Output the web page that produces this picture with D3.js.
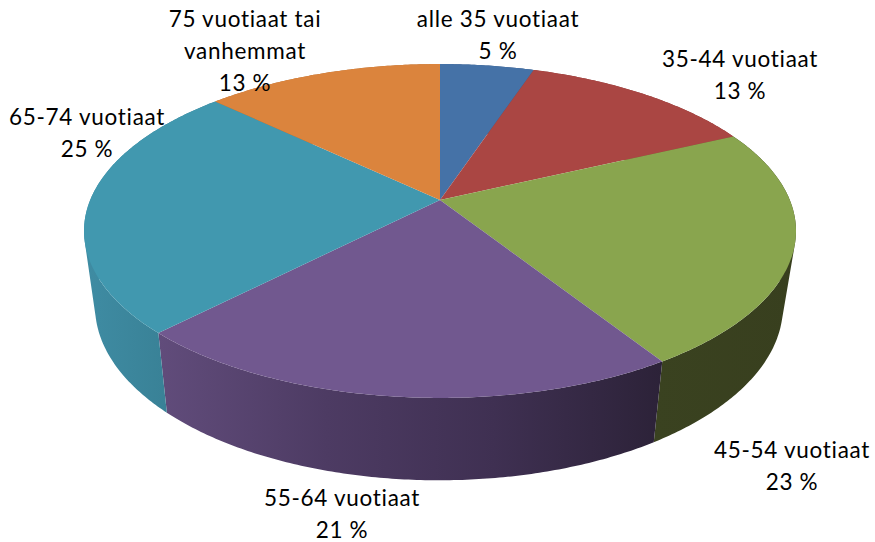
<!DOCTYPE html>
<html>
<head>
<meta charset="utf-8">
<script src="https://cdn.jsdelivr.net/npm/d3@7"></script>
<style>
  html, body { margin: 0; padding: 0; background: #fff; }
  text { font-family: Lato, sans-serif; font-size: 22.5px; letter-spacing: 0.7px; font-variant-ligatures: none; fill: #000; }
</style>
</head>
<body>
<div class="grafico"></div>
<script>
var width = 875, height = 542;

// data, starting at twelve o'clock and going clockwise
var categories = ["alle 35 vuotiaat", "35-44 vuotiaat", "45-54 vuotiaat", "55-64 vuotiaat", "65-74 vuotiaat", "75 vuotiaat tai\nvanhemmat"];
var values = [5.1, 12.9, 23, 21.3, 24.8, 12.9];

var colors = ["#4572a7", "#aa4643", "#89a54e", "#71588f", "#4198af", "#db843d"];
// wall shading, left to right
var wallColors = [
  ["#3a5a85", "#3a5a85"],
  ["#883836", "#883836"],
  ["#3a4220", "#383f1e"],
  ["#614c7b", "#4d3b63", "#3f3052", "#2c2238"],
  ["#3f8ca3", "#357a8e"],
  ["#b06a30", "#b06a30"]
];
var labelPos = [[498, 27], [740, 67], [792, 458], [342, 505.5], [87, 125], [245, 27]];
var lineHeight = 32;

var formatValue = d3.format(".0f");

var svg = d3.select(".grafico").append("svg")
  .attr("width", width)
  .attr("height", height)
  .style("display", "block");

// tilted disc: the nearer half is drawn bigger, so the apex sits above the ellipse centre
var topRim = { cx: 440, cy: 200, r: 349.8, a: 161.2, k: 0.1856 };
var bottomRim = { cx: 439, cy: 274, r: 338, a: 168, k: 0.1856 };

function project(rim, angle) {
  var u = Math.sin(angle), v = -Math.cos(angle), w = 1 - rim.k * v;
  return [rim.cx + rim.r * u / w, rim.cy + rim.a * v / w];
}

function rimPoints(rim, a0, a1) {
  var n = Math.max(2, Math.ceil((a1 - a0) / 0.01));
  return d3.range(n + 1).map(function (i) {
    return project(rim, a0 + (a1 - a0) * i / n);
  });
}

var pie = d3.pie().sort(null).value(function (d) { return d; });
var arcs = pie(values);
var line = d3.line();

// the wall is one path of small quads, all wound the same way so they add up
function wallPath(d) {
  var upper = rimPoints(topRim, d.startAngle, d.endAngle);
  var lower = rimPoints(bottomRim, d.startAngle, d.endAngle);
  var out = "";
  for (var i = 0; i < upper.length - 1; i++) {
    var quad = [upper[i], upper[i + 1], lower[i + 1], lower[i]];
    if (d3.polygonArea(quad) < 0) quad.reverse();
    out += line(quad) + "Z";
  }
  return out;
}

var defs = svg.append("defs");
arcs.forEach(function (d, i) {
  var pts = rimPoints(topRim, d.startAngle, d.endAngle).concat(rimPoints(bottomRim, d.startAngle, d.endAngle));
  var ext = d3.extent(pts, function (p) { return p[0]; });
  var grad = defs.append("linearGradient")
    .attr("id", "wall" + i)
    .attr("gradientUnits", "userSpaceOnUse")
    .attr("x1", ext[0]).attr("x2", ext[1])
    .attr("y1", 0).attr("y2", 0);
  wallColors[i].forEach(function (c, j) {
    grad.append("stop")
      .attr("offset", j / (wallColors[i].length - 1))
      .attr("stop-color", c);
  });
});

// walls
svg.append("g").selectAll("path")
  .data(arcs)
  .enter().append("path")
  .attr("d", wallPath)
  .attr("fill", function (d, i) { return "url(#wall" + i + ")"; });

// top faces
svg.append("g").selectAll("path")
  .data(arcs)
  .enter().append("path")
  .attr("d", function (d) {
    return line([[topRim.cx, topRim.cy]].concat(rimPoints(topRim, d.startAngle, d.endAngle))) + "Z";
  })
  .attr("fill", function (d, i) { return colors[i]; });

// labels
var label = svg.append("g").selectAll("text")
  .data(categories)
  .enter().append("text")
  .attr("text-anchor", "middle")
  .attr("transform", function (d, i) {
    return "translate(" + labelPos[i][0] + "," + labelPos[i][1] + ")";
  });

label.selectAll("tspan")
  .data(function (d, i) { return d.split("\n").concat(formatValue(values[i]) + " %"); })
  .enter().append("tspan")
  .attr("x", 0)
  .attr("y", function (d, i) { return i * lineHeight; })
  .text(function (d) { return d; });
</script>
</body>
</html>
